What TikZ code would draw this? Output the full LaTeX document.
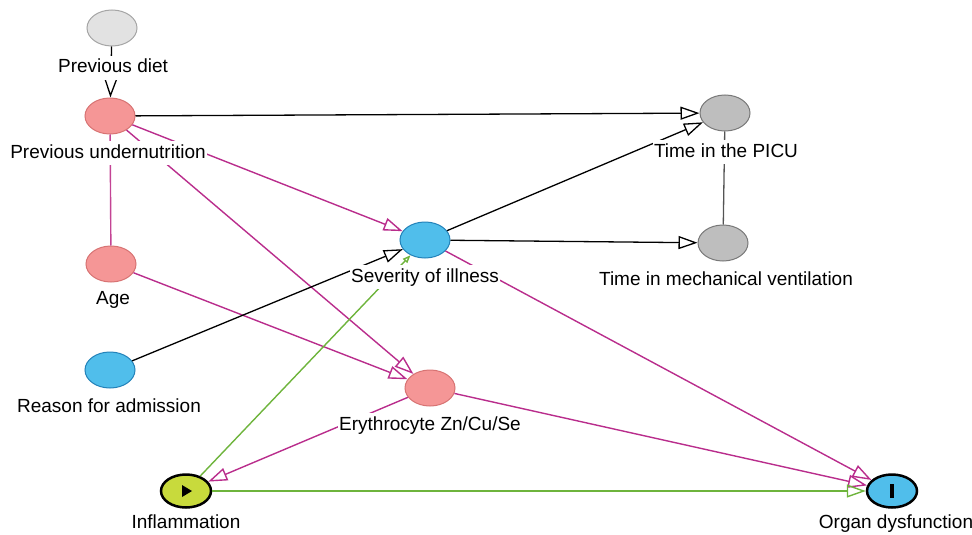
\documentclass[tikz,border=0pt]{standalone}
\usepackage{fontspec}
\setmainfont{Liberation Sans}
\usetikzlibrary{arrows.meta,shapes.geometric}

\definecolor{pathmag}{RGB}{185,45,140}
\definecolor{pathgrn}{RGB}{110,180,60}
\definecolor{adjpink}{RGB}{245,150,150}
\definecolor{adjpinkb}{RGB}{215,115,115}
\definecolor{expblue}{RGB}{80,190,235}
\definecolor{expblueb}{RGB}{35,130,185}
\definecolor{othgray}{RGB}{190,190,190}
\definecolor{othgrayb}{RGB}{120,120,120}
\definecolor{latgray}{RGB}{226,226,226}
\definecolor{latgrayb}{RGB}{165,165,165}
\definecolor{expyel}{RGB}{200,218,60}

\begin{document}
\begin{tikzpicture}[x=1pt,y=-1pt,
    thick,var/.style={ellipse,draw,line width=1pt,minimum width=50pt,minimum height=36pt,inner sep=0pt},
    lbl/.style={fill=white,inner xsep=1pt,inner ysep=3pt,text height=14pt,text depth=4pt,font=\fontsize{19}{22}\selectfont},
    opentip/.style={-{Triangle[open,length=19pt,width=13pt]}},
    blk/.style={draw=black,line width=1.3pt,opentip},
    mag/.style={draw=pathmag,line width=1.4pt,opentip},
    grn/.style={draw=pathgrn,line width=1.4pt,opentip}
    ]
  \useasboundingbox (0,0) rectangle (972,535);

  \node[var,fill=latgray,draw=latgrayb] (diet) at (112,28) {};
  \node[var,fill=adjpink,draw=adjpinkb] (und) at (110,116) {};
  \node[var,fill=adjpink,draw=adjpinkb] (age) at (111,264) {};
  \node[var,fill=expblue,draw=expblueb] (rea) at (110,370) {};
  \node[var,fill=expblue,draw=expblueb] (sev) at (425,240) {};
  \node[var,fill=othgray,draw=othgrayb] (picu) at (725,113) {};
  \node[var,fill=othgray,draw=othgrayb] (vent) at (723,243) {};
  \node[var,fill=adjpink,draw=adjpinkb] (ery) at (430,388) {};
  \node[var,fill=expyel,draw=black,line width=2.5pt,minimum height=33pt] (inf) at (186,491) {};
  \node[var,fill=expblue,draw=black,line width=2.5pt,minimum height=33pt] (org) at (892,491) {};

  % node marks
  \fill[black] (inf.center) ++(-4,-6) -- ++(10,6) -- ++(-10,6) -- cycle;
  \fill[black] (org.center) ++(-2,-7) rectangle ++(4,14);

  \path%
   (diet) edge [blk] (und)
   (und) edge [blk] (picu)
   (und) edge [mag] (sev)
   (und) edge [mag] (ery)
   (und) edge [draw=pathmag!85!pink,line width=1.4pt] (age)
   (age) edge [mag] (ery)
   (rea) edge [blk] (sev)
   (sev) edge [blk] (picu)
   (sev) edge [blk] (vent)
   (sev) edge [mag] (org)
   (vent) edge [draw=othgrayb!70!black,line width=1.3pt] (picu)
   (ery) edge [mag] (inf)
   (ery) edge [mag] (org)
   (inf) edge [draw=pathgrn,line width=1.4pt,-{Triangle[open,length=8pt,width=6pt]}] (sev)
   (inf) edge [grn] (org);

  \node[lbl] (dietL) at (113,68) {Previous diet};
  \node[lbl] (undL) at (108,153) {Previous undernutrition};
  \node[lbl] (ageL) at (113,299) {Age};
  \node[lbl] (reaL) at (109,407) {Reason for admission};
  \node[lbl] (sevL) at (425,277) {Severity of illness};
  \node[lbl] (picuL) at (726,152) {Time in the PICU};
  \node[lbl] (ventL) at (726,280) {Time in mechanical ventilation};
  \node[lbl] (eryL) at (430,425) {Erythrocyte Zn/Cu/Se};
  \node[lbl] (infL) at (186,523) {Inflammation};
  \node[lbl] (orgL) at (896,523) {Organ dysfunction};
\end{tikzpicture}
\end{document}
